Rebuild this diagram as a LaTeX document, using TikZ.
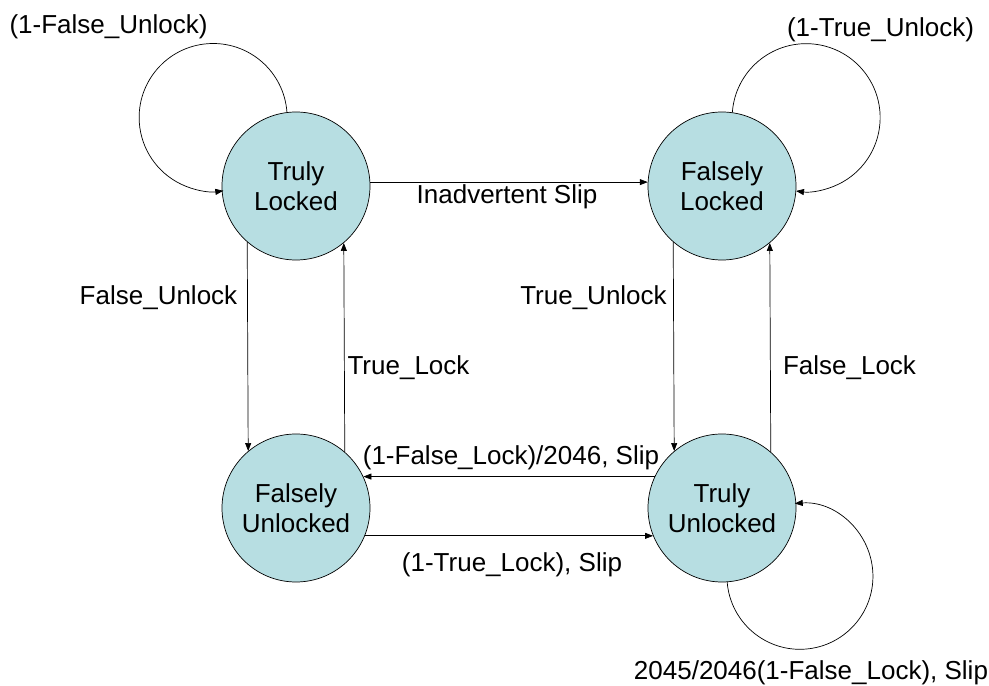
\documentclass[tikz,border=0pt]{standalone}
\usepackage{fontspec}
\setmainfont{Liberation Sans}
\usetikzlibrary{arrows.meta}
\definecolor{statefill}{RGB}{183,222,226}
\begin{document}
\begin{tikzpicture}[x=1pt,y=1pt,
  every node/.style={font=\fontsize{26}{30}\selectfont},
  state/.style={circle, draw=black, line width=0.7pt, fill=statefill,
                minimum size=148pt, inner sep=0pt, align=center},
  trans/.style={line width=0.7pt, -{Triangle[length=8pt,width=6pt]}},
  lbl/.style={inner sep=0pt}]
\useasboundingbox (0,0) rectangle (989,686);

% states
\node[state] (TL) at (296,500) {Truly\\Locked};
\node[state] (FL) at (722,500) {Falsely\\Locked};
\node[state] (FU) at (296,178) {Falsely\\Unlocked};
\node[state] (TU) at (722,178) {Truly\\Unlocked};

% transitions between states
\draw[trans] (TL.3) -- (FL.177);
\draw[trans] (TL.229.5) -- (FU.130.5);
\draw[trans] (FU.49.5) -- (TL.310.5);
\draw[trans] (FL.229.5) -- (TU.130.5);
\draw[trans] (TU.49.5) -- (FL.310.5);
\draw[trans] (TU.155) -- (FU.25);
\draw[trans] (FU.-22) -- (TU.202);

% self loops
\draw[trans] (TL.97.9) arc[start angle=4.1, end angle=277.9, radius=74];
\draw[trans] (FL.82.1) arc[start angle=175.9, end angle=-97.9, radius=74];
\draw[trans] (TU.274.8) arc[start angle=184.6, end angle=454.1, radius=73];

% labels
\node[lbl] (lInad) at (507,489)   {Inadvertent Slip};
\node[lbl] (lFU)   at (158.5,388) {False\_Unlock};
\node[lbl] (lTL)   at (408.5,318) {True\_Lock};
\node[lbl] (lTU)   at (593.5,388) {True\_Unlock};
\node[lbl] (lFLk)  at (849.5,318) {False\_Lock};
\node[lbl] (lBack) at (511,228)   {(1-False\_Lock)/2046, Slip};
\node[lbl] (lFwd)  at (512,121)   {(1-True\_Lock), Slip};
\node[lbl] (lTLl)  at (108.5,659) {(1-False\_Unlock)};
\node[lbl] (lFLl)  at (880.5,656) {(1-True\_Unlock)};
\node[lbl] (lTUl)  at (811,13)    {2045/2046(1-False\_Lock), Slip};
\end{tikzpicture}
\end{document}
